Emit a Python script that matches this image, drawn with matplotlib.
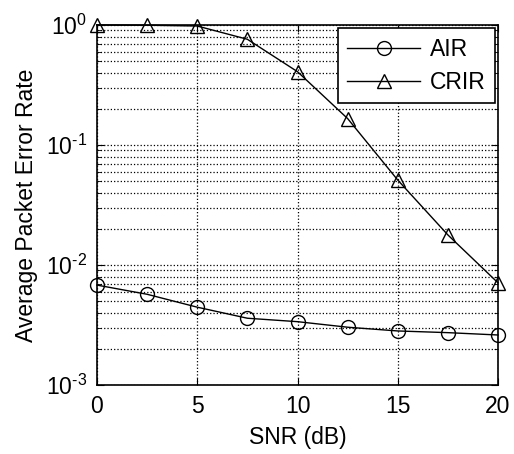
import matplotlib
matplotlib.use("Agg")
import matplotlib.pyplot as plt
from matplotlib.ticker import LogLocator, NullFormatter, FuncFormatter
import math

plt.rcParams['font.family'] = ['Liberation Sans', 'DejaVu Sans']
plt.rcParams['mathtext.fontset'] = 'custom'
plt.rcParams['mathtext.rm'] = 'Liberation Sans'
plt.rcParams['mathtext.it'] = 'Liberation Sans'

snr = [0, 2.5, 5, 7.5, 10, 12.5, 15, 17.5, 20]
air = [6.8e-3, 5.7e-3, 4.45e-3, 3.6e-3, 3.37e-3, 3.03e-3, 2.82e-3, 2.73e-3, 2.61e-3]
crir = [1.0, 0.995, 0.98, 0.76, 0.408, 0.166, 0.051, 0.0178, 0.0071]

fs = 16.5


def pow10(v, pos):
    e = int(round(math.log10(v)))
    if e < 0:
        return r'$\mathregular{10^{\text{-}%d}}$' % (-e)
    return r'$\mathregular{10^{%d}}$' % e


fig = plt.figure(figsize=(5.14, 4.54), dpi=100)
ax = fig.add_axes([0.1887, 0.152, 0.7802, 0.793])

ax.semilogy(snr, air, 'k-o', mfc='none', ms=10, mew=1.0, lw=1.0,
            label='AIR', clip_on=False, zorder=3)
ax.semilogy(snr, crir, 'k-^', mfc='none', ms=10.5, mew=1.0, lw=1.0,
            label='CRIR', clip_on=False, zorder=3)

ax.set_xlim(0, 20)
ax.set_ylim(1e-3, 1)
ax.set_xticks([0, 5, 10, 15, 20])
ax.yaxis.set_major_locator(LogLocator(base=10, numticks=10))
ax.yaxis.set_major_formatter(FuncFormatter(pow10))
ax.yaxis.set_minor_locator(LogLocator(base=10, subs=range(2, 10), numticks=20))
ax.yaxis.set_minor_formatter(NullFormatter())

ax.grid(True, which='major', linestyle=':', color='k', lw=0.9)
ax.grid(True, which='minor', axis='y', linestyle=':', color='k', lw=0.9)

ax.tick_params(which='both', direction='in', top=True, right=True,
               labelsize=fs, pad=7)
ax.tick_params(which='major', length=5)
ax.tick_params(which='minor', length=3)
for s in ax.spines.values():
    s.set_linewidth(1.2)

ax.set_xlabel('SNR (dB)', fontsize=fs, labelpad=6)
ax.set_ylabel('Average Packet Error Rate', fontsize=fs, labelpad=6)

leg = ax.legend(loc='upper right', fontsize=fs, handlelength=3.2,
                fancybox=False, edgecolor='k', framealpha=1,
                borderaxespad=0.15, handletextpad=0.4, labelspacing=0.45,
                borderpad=0.4)
leg.get_frame().set_linewidth(1.2)

fig.savefig('out.png', dpi=100)
